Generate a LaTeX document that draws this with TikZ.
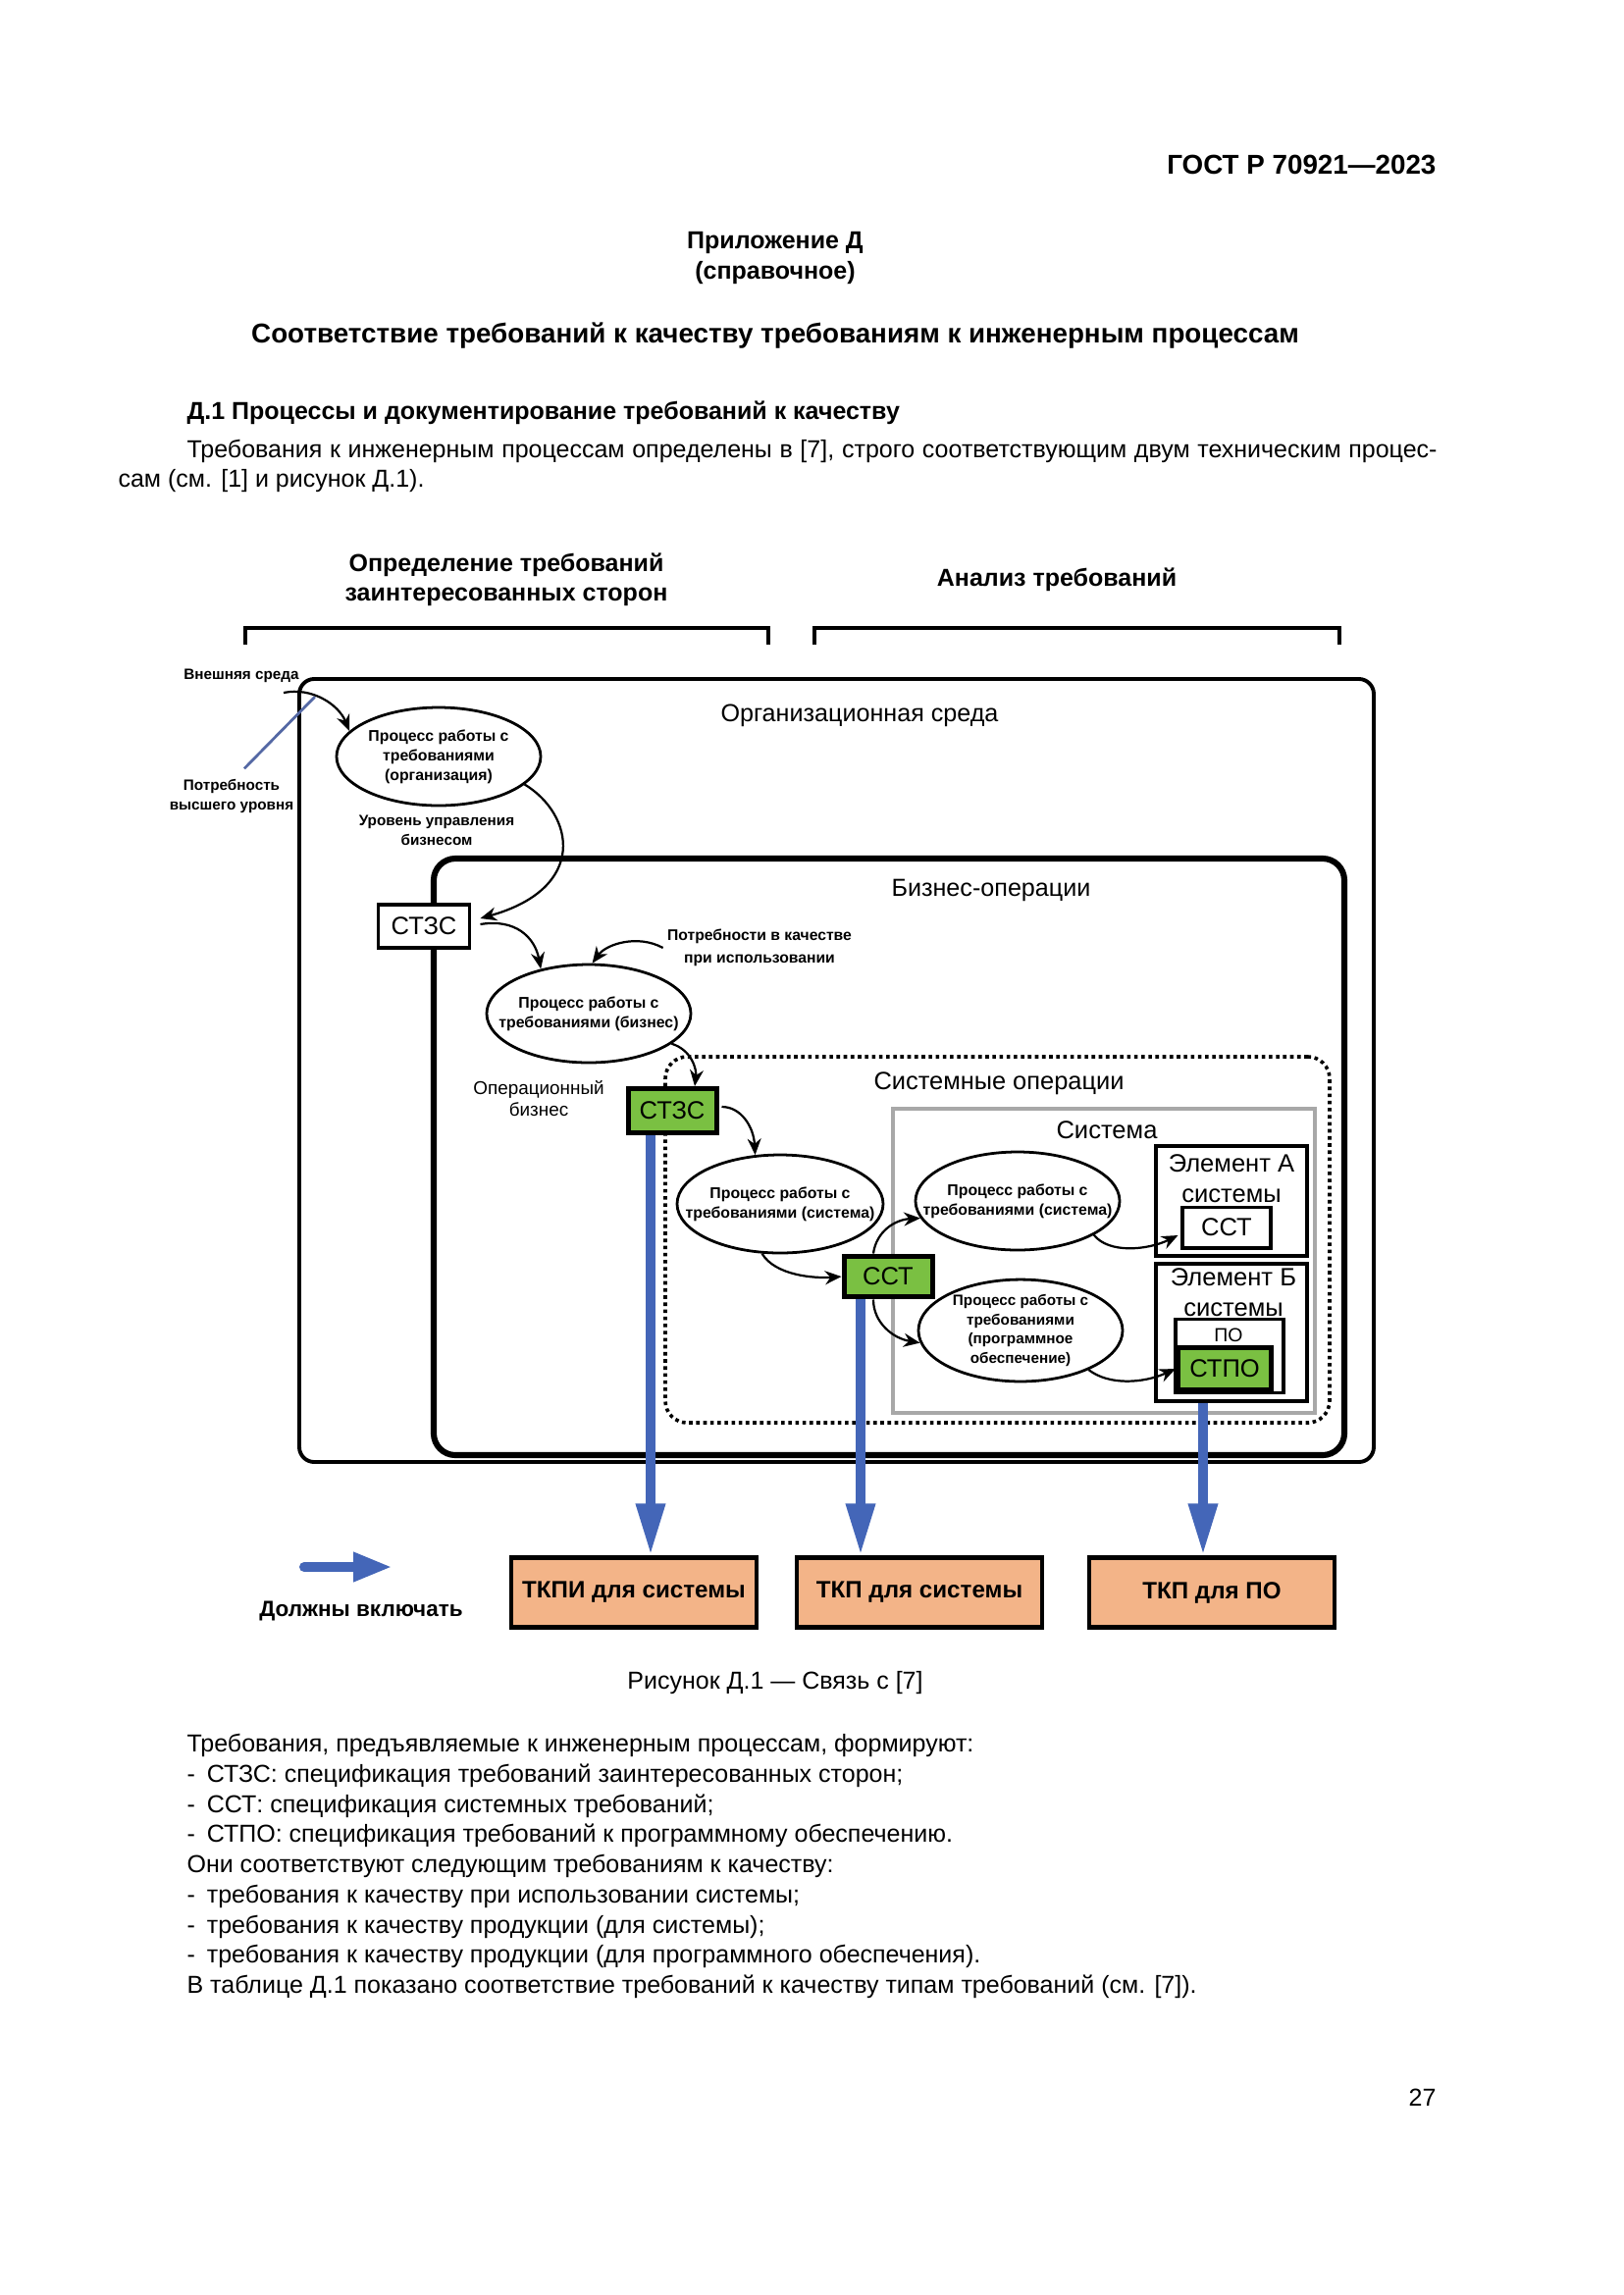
\documentclass[tikz,border=0pt]{standalone}
\usepackage{fontspec}
\setmainfont{Liberation Sans}
\usetikzlibrary{shapes.geometric,arrows.meta,calc}
\definecolor{myblue}{RGB}{68,102,184}
\definecolor{mygreen}{RGB}{122,192,66}
\definecolor{mysalmon}{RGB}{243,180,136}
\definecolor{mygray}{RGB}{168,168,168}
\definecolor{needblue}{RGB}{84,104,164}
\newcommand\fsz[2]{\fontsize{#1}{#2}\selectfont}
\pgfdeclarelayer{bg}
\pgfdeclarelayer{back}
\pgfdeclarelayer{mid}
\pgfsetlayers{bg,back,mid,main}
\begin{document}
\begin{tikzpicture}[x=0.36pt,y=-0.36pt,
  lbl/.style={inner sep=0pt, align=center},
  bodyl/.style={inner sep=0pt, anchor=west, font=\fsz{9}{11}},
  tiny/.style={inner sep=0pt, align=center, font=\bfseries\fsz{5.7}{7.2}},
  ell/.style={draw, ellipse, line width=1pt, fill=white, inner sep=0pt, minimum width=74.9pt, minimum height=36pt},
  conn/.style={-{Stealth[length=6pt,width=5pt]}, line width=0.8pt},
  bluearrow/.style={draw=myblue, line width=3.6pt, line cap=round, -{Triangle[length=19pt,width=10pt]}},
  wbox/.style={draw, fill=white, line width=1.4pt, inner sep=0pt, font=\fsz{9.2}{10}},
  gbox/.style={draw, fill=mygreen, line width=1.8pt, inner sep=0pt, font=\fsz{9.2}{10}},
  elbox/.style={draw, fill=white, line width=1.4pt, inner sep=0pt, minimum width=55.4pt},
  tkbox/.style={draw, fill=mysalmon, line width=1.6pt, inner sep=0pt, minimum width=90pt, minimum height=25.6pt, font=\bfseries\fsz{8.7}{10}},
  cont/.style={draw, inner sep=0pt},
]
\begin{pgfonlayer}{bg}
\useasboundingbox[fill=white] (0,0) rectangle (1654,2339);
\end{pgfonlayer}

% ---- page header and text ----
\node[lbl, anchor=east, font=\bfseries\fsz{10}{12}] (gost) at (1464,168) {ГОСТ Р 70921—2023};
\node[lbl, font=\bfseries\fsz{9}{11.2}] (app) at (790,263) {Приложение Д\\(справочное)};
\node[lbl, font=\bfseries\fsz{10}{12}] (title) at (790,342) {Соответствие требований к качеству требованиям к инженерным процессам};
\node[lbl, anchor=west, font=\bfseries\fsz{9}{11}] (sec) at (190,421) {Д.1 Процессы и документирование требований к качеству};
\node[bodyl] (p1) at (190,460) {\makebox[458.6pt][s]{Требования к инженерным процессам определены в [7], строго соответствующим двум техническим процес-}};
\node[bodyl] (p2) at (120,490) {сам (см. [1] и рисунок Д.1).};

% ---- brackets ----
\node[lbl, font=\bfseries\fsz{9}{10.8}] (hdrL) at (516,591) {Определение требований\\заинтересованных сторон};
\node[lbl, font=\bfseries\fsz{9}{10.8}] (hdrR) at (1077,591) {Анализ требований};
\draw[line width=1.1pt] (250,657) -- (250,640) -- (783,640) -- (783,657);
\draw[line width=1.1pt] (830,657) -- (830,640) -- (1365,640) -- (1365,657);

% ---- containers ----
\begin{pgfonlayer}{back}
\node[cont, line width=1.4pt, rounded corners=5.5pt, minimum width=394.2pt, minimum height=287.3pt] (org) at (852.5,1091) {};
\node[cont, line width=2.2pt, rounded corners=8pt, minimum width=334.1pt, minimum height=218.9pt] (bus) at (906,1179) {};
\node[cont, line width=1.3pt, dash pattern=on 1.3pt off 1.3pt, rounded corners=8pt, minimum width=243.7pt, minimum height=134.3pt] (sysops) at (1016.5,1263.5) {};
\node[cont, draw=mygray, line width=1.1pt, minimum width=154.8pt, minimum height=111.6pt] (sys) at (1125,1285) {};
\end{pgfonlayer}

\node[lbl, font=\fsz{9.05}{11}] (orgt) at (876,729) {Организационная среда};
\node[lbl, font=\fsz{9.05}{11}] (bust) at (1010,907) {Бизнес-операции};
\node[lbl, font=\fsz{9.15}{11}] (sysopst) at (1018,1104) {Системные операции};
\node[lbl, font=\fsz{9.2}{11}] (syst) at (1128,1152) {Система};

% ---- labels ----
\node[tiny, font=\bfseries\fsz{5.5}{7.2}] (ext) at (246,689) {Внешняя среда};
\node[tiny, font=\bfseries\fsz{5.5}{7.2}] (need) at (236,811) {Потребность\\высшего уровня};
\node[tiny, font=\bfseries\fsz{5.5}{7.2}] (lvl) at (445,846) {Уровень управления\\бизнесом};
\node[tiny, font=\bfseries\fsz{5.65}{8.3}] (qneed) at (774,966) {Потребности в качестве\\при использовании};
\node[lbl, font=\fsz{6.8}{7.9}] (opb) at (549,1120) {Операционный\\бизнес};

% ---- ellipses ----
\node[ell, label={[tiny]center:{Процесс работы с\\требованиями\\(организация)}}] (e1) at (447,771) {};
\node[ell, label={[tiny]center:{Процесс работы с\\требованиями (бизнес)}}] (e2) at (600,1033) {};
\node[ell, minimum width=75.6pt, label={[tiny]center:{Процесс работы с\\требованиями (система)}}] (e3) at (795,1227) {};
\node[ell, label={[tiny]center:{Процесс работы с\\требованиями (система)}}] (e4) at (1037,1224) {};
\node[ell, minimum height=37.4pt, label={[tiny, font=\bfseries\fsz{5.5}{7}]center:{Процесс работы с\\требованиями\\(программное\\обеспечение)}}] (e5) at (1040,1356) {};

% ---- boxes ----
\node[wbox, minimum width=33.5pt, minimum height=15.8pt] (stzs1) at (432,944) {СТЗС};
\node[gbox, minimum width=32.4pt, minimum height=16.2pt] (stzs2) at (685,1132) {СТЗС};
\node[gbox, minimum width=32.4pt, minimum height=15.1pt] (sst) at (905,1301) {ССТ};
\node[elbox, minimum height=40.3pt] (elA) at (1255,1224) {};
\node[lbl, font=\fsz{9.2}{11.2}] (elAt) at (1255,1201) {Элемент А\\системы};
\node[wbox, line width=1.1pt, minimum width=32.4pt, minimum height=15.1pt] (sstA) at (1250,1251) {ССТ};
\node[elbox, minimum height=50.4pt] (elB) at (1255,1358) {};
\node[lbl, font=\fsz{9.2}{11.2}] (elBt) at (1257,1317) {Элемент Б\\системы};
\node[wbox, line width=1.1pt, minimum width=39.6pt, minimum height=27pt] (po) at (1253,1382) {};
\node[lbl, font=\fsz{7}{8}] (pot) at (1252,1361) {ПО};
\node[gbox, minimum width=34.2pt, minimum height=15.5pt] (stpo) at (1248,1395) {СТПО};

\node[tkbox] (tkpi) at (646,1623) {ТКПИ для системы};
\node[tkbox] (tkps) at (937,1623) {ТКП для системы};
\node[tkbox] (tkpo) at (1235,1623) {ТКП для ПО};

% ---- black connectors ----
\coordinate (extstart) at (289,706);
\coordinate (needtip) at (321,710);
\draw[needblue, line width=1pt] ($(need.north)+(13,-10)$) -- (needtip);
\draw[conn] (extstart) .. controls (318,700) and (345,718) .. (e1.164);
\draw[conn] (e1.-18) .. controls (585,830) and (600,905) .. ($(stzs1.east)+(9,-8)$);
\draw[conn] ($(stzs1.east)+(9,-2)$) .. controls (525,936) and (545,955) .. (e2.137);
\draw[conn] ($(qneed.west)+(-4,0)$) .. controls (650,952) and (618,962) .. (e2.86);
\draw[conn] (e2.-20) .. controls (705,1070) and (710,1090) .. ($(stzs2.north)+(23,0)$);
\draw[conn] ($(stzs2.east)+(3,-4)$) .. controls (755,1128) and (768,1148) .. (e3.117);
\draw[conn] (e3.-110) .. controls (790,1300) and (830,1303) .. (sst.west);
\draw[conn] ($(sst.north)+(-15,0)$) .. controls (893,1255) and (912,1243) .. (e4.190);
\draw[conn] (e4.-24) .. controls (1130,1278) and (1170,1274) .. ($(sstA.west)+(-3,8)$);
\draw[conn] ($(sst.south)+(-15,0)$) .. controls (890,1348) and (910,1364) .. (e5.187);
\draw[conn] (e5.-30) .. controls (1130,1412) and (1165,1410) .. (stpo.west);

% ---- blue arrows ----
\begin{pgfonlayer}{mid}
\coordinate (b1) at ($(stzs2.south)+(-22,0)$);
\coordinate (b2) at ($(sst.south)+(-28,0)$);
\coordinate (b3) at ($(stpo.south)+(-22,0)$);
\draw[bluearrow] (b1) -- (b1 |- tkpi.north);
\draw[bluearrow] (b2) -- (b2 |- tkps.north);
\draw[bluearrow] (b3) -- (b3 |- tkpo.north);
\end{pgfonlayer}

% ---- legend ----
\coordinate (lg1) at (310,1597);
\coordinate (lg2) at (400,1597);
\draw[bluearrow, -{Triangle[length=14.4pt,width=10pt]}] (lg1) -- (lg2);
\node[lbl, font=\bfseries\fsz{8.1}{10}] (must) at (368,1642) {Должны включать};
\node[lbl, font=\fsz{9}{11}] (cap) at (790,1715) {Рисунок Д.1 — Связь с [7]};

% ---- text below ----
\node[bodyl] (t1) at (190,1779) {Требования, предъявляемые к инженерным процессам, формируют:};
\node[bodyl] (t2) at (190,1810) {-\hspace{4.3pt}СТЗС: спецификация требований заинтересованных сторон;};
\node[bodyl] (t3) at (190,1841) {-\hspace{4.3pt}ССТ: спецификация системных требований;};
\node[bodyl] (t4) at (190,1871) {-\hspace{4.3pt}СТПО: спецификация требований к программному обеспечению.};
\node[bodyl] (t5) at (190,1902) {Они соответствуют следующим требованиям к качеству:};
\node[bodyl] (t6) at (190,1933) {-\hspace{4.3pt}требования к качеству при использовании системы;};
\node[bodyl] (t7) at (190,1964) {-\hspace{4.3pt}требования к качеству продукции (для системы);};
\node[bodyl] (t8) at (190,1994) {-\hspace{4.3pt}требования к качеству продукции (для программного обеспечения).};
\node[bodyl] (t9) at (190,2025) {В таблице Д.1 показано соответствие требований к качеству типам требований (см. [7]).};
\node[lbl, anchor=east, font=\fsz{9}{11}] (pg) at (1464,2138) {27};
\end{tikzpicture}
\end{document}
